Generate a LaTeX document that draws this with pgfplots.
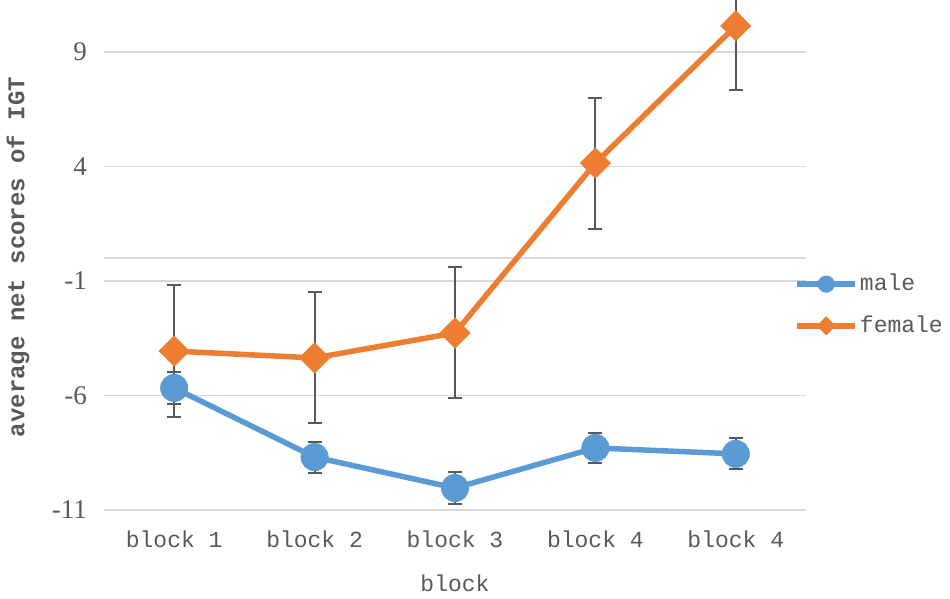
\documentclass[border=0pt]{standalone}
\usepackage{fontspec}
\setmainfont{Liberation Mono}
\newfontfamily\numfont{Liberation Serif}
\usepackage{pgfplots}
\pgfplotsset{compat=1.18}
\definecolor{mblue}{RGB}{91,155,213}
\definecolor{morange}{RGB}{237,125,49}
\definecolor{tgray}{RGB}{89,89,89}
\definecolor{ggray}{RGB}{217,217,217}
\begin{document}
\begin{tikzpicture}
\begin{axis}[
  scale only axis, width=351pt, height=255pt,
  xmin=-0.5, xmax=4.5, ymin=-11, ymax=11.27,
  clip=true,
  axis line style={draw=none},
  major tick length=0pt,
  xtick={0,1,2,3,4},
  xticklabels={block 1,block 2,block 3,block 4,block 4},
  ytick={-11,-6,-1,4,9},
  yticklabels={-11,-6,-1,4,9},
  extra y ticks={0}, extra y tick labels={},
  ymajorgrids,
  grid style={ggray, line width=0.9pt},
  xticklabel style={font=\fontsize{11.5}{13}\selectfont, text=tgray, yshift=-7pt},
  yticklabel style={font=\numfont\fontsize{13.5}{15}\selectfont, text=tgray, xshift=-5pt},
  xlabel={block},
  xlabel style={at={(axis description cs:0.5,0)}, anchor=center, yshift=-36.5pt, font=\fontsize{11.5}{13}\selectfont, text=tgray},
  ylabel={average net scores of IGT},
  ylabel style={at={(axis description cs:0,0.496)}, anchor=center, yshift=43pt, font=\bfseries\fontsize{12}{14}\selectfont, text=tgray},
  legend style={at={(axis description cs:0.983,0.402)}, anchor=west, draw=none, fill=none,
    font=\fontsize{11.5}{13}\selectfont, text=tgray, row sep=9pt, inner sep=0pt,
    nodes={inner sep=1pt}},
  legend cell align=left,
  legend image code/.code={%
    \draw[mark repeat=2,mark phase=2,#1,every mark/.append style={scale=0.6}]
      plot coordinates {(0pt,0pt) (14.5pt,0pt) (29pt,0pt)};},
  error bars/y dir=both,
  error bars/y explicit,
  error bars/error bar style={tgray, line width=1pt, solid},
  error bars/error mark options={rotate=90, tgray, mark size=3.5pt, line width=1pt},
]
\addplot[mblue, line width=2.75pt, mark=*, mark size=6.8pt,
  mark options={solid, fill=mblue, draw=mblue, line width=0.4pt}]
  coordinates {
  (0,-5.67) +- (0,0.68)
  (1,-8.69) +- (0,0.68)
  (2,-10.04) +- (0,0.72)
  (3,-8.29) +- (0,0.66)
  (4,-8.55) +- (0,0.68)
};
\addlegendentry{male}
\addplot[morange, line width=2.75pt, mark=square*, mark size=5.3pt,
  mark options={solid, rotate=45, fill=morange, draw=morange, line width=0.4pt}]
  coordinates {
  (0,-4.06) +- (0,2.88)
  (1,-4.36) +- (0,2.86)
  (2,-3.27) +- (0,2.86)
  (3,4.15) +- (0,2.86)
  (4,10.14) +- (0,2.8)
};
\addlegendentry{female}
\end{axis}
\pgfresetboundingbox
\useasboundingbox (-52pt,-44.5pt) rectangle (423pt,255pt);
\end{tikzpicture}
\end{document}
